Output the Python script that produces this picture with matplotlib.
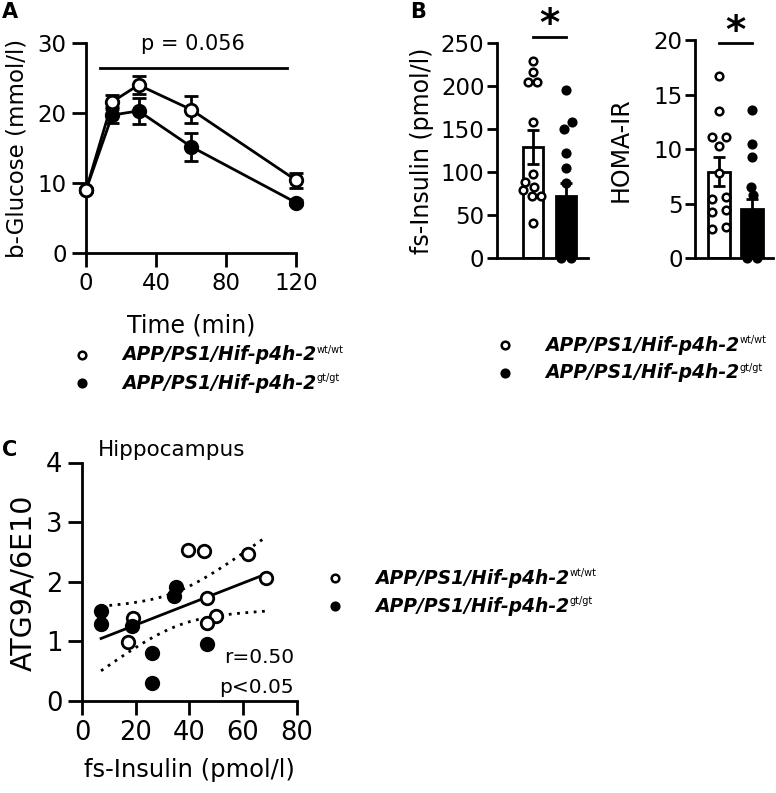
import numpy as np

import matplotlib as mpl
mpl.use('Agg')
import matplotlib.pyplot as plt

plt.rcParams['font.family'] = 'DejaVu Sans'
plt.rcParams['axes.linewidth'] = 2.0

# ---- data ----
# A: glucose tolerance test
time_min = [0, 15, 30, 60, 120]
glu_wt = [9.0, 21.6, 24.0, 20.5, 10.4]
glu_wt_sem = [0.3, 1.0, 1.3, 1.9, 1.1]
glu_gt = [9.0, 19.7, 20.3, 15.2, 7.2]
glu_gt_sem = [0.3, 1.1, 1.8, 2.0, 0.4]

# B: fasting insulin and HOMA-IR (bar = mean, error = SEM)
ins_mean = [129.0, 72.5]
ins_sem = [20.0, 15.0]
ins_wt = [229, 216, 204, 204, 158, 98, 89, 83, 79, 72, 72, 41]
ins_gt = [195, 158, 150, 122, 105, 87, 0, 0]
homa_mean = [7.95, 4.5]
homa_sem = [1.33, 0.95]
homa_wt = [16.7, 13.5, 11.1, 11.1, 10.3, 7.8, 5.65, 5.4, 4.4, 4.2, 2.85, 2.65]
homa_gt = [13.6, 10.5, 9.25, 6.55, 5.8, 0, 0]

# horizontal spread of the dots (bar-width units)
ins_wt_dx = [0, 0, -0.14, 0.11, 0, 0, -0.24, 0.02, -0.29, 0.23, -0.04, 0]
ins_gt_dx = [0, 0.17, -0.05, 0, 0, 0, -0.15, 0.15]
homa_wt_dx = [0, 0, -0.22, 0.21, 0, 0, 0.21, -0.22, 0.21, -0.22, 0.21, -0.22]
homa_gt_dx = [0, 0, 0, -0.03, 0.03, -0.15, 0.15]

# C: ATG9A/6E10 vs fs-insulin (hippocampus)
c_wt_x = [39.6, 45.6, 62.0, 68.4, 46.5, 49.9, 46.7, 18.9, 17.0]
c_wt_y = [2.53, 2.51, 2.46, 2.06, 1.72, 1.42, 1.30, 1.39, 0.99]
c_gt_x = [7.1, 7.1, 18.8, 34.3, 35.0, 26.0, 26.0, 46.5]
c_gt_y = [1.50, 1.28, 1.25, 1.75, 1.91, 0.80, 0.29, 0.96]

W, H = 776., 793.
fig = plt.figure(figsize=(W / 100., H / 100.), dpi=100)


def fx(px):
    return px / W


def fy(py):
    return 1. - py / H


def px_axes(left, top, right, bottom, labelsize=16.5, ticklen=10, pad=4):
    ax = fig.add_axes([fx(left), fy(bottom), (right - left) / W, (bottom - top) / H])
    for s in ['top', 'right']:
        ax.spines[s].set_visible(False)
    ax.tick_params(direction='out', length=ticklen, width=2, labelsize=labelsize, pad=pad)
    return ax


def legend(x, y, dy, size=13.5):
    for i, (face, sup) in enumerate([('white', 'wt/wt'), ('black', 'gt/gt')]):
        yy = y + i * dy
        axA.plot([fx(x)], [fy(yy)], 'o', ms=5.5, mfc=face, mec='black', mew=1.8,
                 transform=fig.transFigure, clip_on=False)
        t = fig.text(fx(x + 40), fy(yy), 'APP/PS1/Hif-p4h-2', ha='left', va='center',
                     style='italic', weight='bold', size=size)
        axA.annotate(sup, xy=(1.0, 0.5), xycoords=t, ha='left', va='bottom',
                     size=7, annotation_clip=False)


# ---------------- A ----------------
axA = px_axes(86, 43, 296, 253)
axA.errorbar(time_min, glu_gt, yerr=glu_gt_sem, color='black', lw=2, marker='o', ms=9,
             mfc='black', mec='black', mew=2, capsize=5, capthick=2, clip_on=False, zorder=3)
axA.errorbar(time_min, glu_wt, yerr=glu_wt_sem, color='black', lw=2, marker='o', ms=9,
             mfc='white', mec='black', mew=2, capsize=5, capthick=2, clip_on=False, zorder=4)
axA.set_xlim(0, 120)
axA.set_ylim(0, 30)
axA.set_xticks([0, 40, 80, 120])
axA.set_yticks([0, 10, 20, 30])
axA.plot([8, 115], [26.5, 26.5], color='black', lw=2, clip_on=False)
axA.text(61, 29.0, 'p = 0.056', ha='center', va='baseline', size=15)
axA.set_xlabel('Time (min)', size=17)
axA.xaxis.set_label_coords((191 - 86) / 210., -(325 - 253) / 210.)
axA.xaxis.label.set_va('center')
axA.set_ylabel('b-Glucose (mmol/l)', size=16.5)
axA.yaxis.set_label_coords(-(86 - 17) / 210., 0.5)
axA.yaxis.label.set_va('center')
legend(82, 355, 28)

# ---------------- B ----------------
for (left, top, right, xl, width, mean, sem, wt, gt, wdx, gdx, ymax, step, lab, labx, sig_y, star_x) in [
        (497, 42.7, 588, (-1.09, 1.667), 0.63, ins_mean, ins_sem, ins_wt, ins_gt,
         ins_wt_dx, ins_gt_dx, 250, 50, 'fs-Insulin (pmol/l)', 422, 257, 549),
        (695, 40.0, 773, (-0.727, 1.636), 0.65, homa_mean, homa_sem, homa_wt, homa_gt,
         homa_wt_dx, homa_gt_dx, 20, 5, 'HOMA-IR', 621, 19.7, 735)]:
    ax = px_axes(left, top, right, 258.3, ticklen=7.5, pad=1.5)
    ax.bar([0, 1], mean, width=width, color=['white', 'black'], edgecolor='black', lw=2, zorder=1)
    ax.errorbar([0, 1], mean, yerr=sem, fmt='none', ecolor='black', elinewidth=2,
                capsize=4, capthick=2, zorder=2)
    ax.plot(np.array(wdx), wt, 'o', ms=5.5, mfc='white', mec='black', mew=1.8,
            clip_on=False, zorder=3)
    ax.plot(1 + np.array(gdx), gt, 'o', ms=5.5, mfc='black', mec='black', mew=1.8,
            clip_on=False, zorder=3)
    ax.set_xlim(*xl)
    ax.set_ylim(0, ymax)
    ax.set_yticks(np.arange(0, ymax + step, step))
    ax.set_xticks([])
    ax.plot([0, 1], [sig_y, sig_y], color='black', lw=2, clip_on=False)
    ax.set_ylabel(lab, size=17)
    ax.yaxis.set_label_coords(-(left - labx) / (right - left), 0.5)
    ax.yaxis.label.set_va('center')
    fig.text(fx(star_x), fy(36 if ymax == 250 else 43), '*', ha='center', va='baseline',
             size=28, weight='bold')
legend(505, 345, 28)

# ---------------- C ----------------
axC = px_axes(82, 462.5, 296.7, 700.7, labelsize=18.5)
axC.plot(c_wt_x, c_wt_y, 'o', ms=9, mfc='white', mec='black', mew=2, clip_on=False, zorder=3)
axC.plot(c_gt_x, c_gt_y, 'o', ms=9, mfc='black', mec='black', mew=2, clip_on=False, zorder=3)

# linear regression with 95% confidence band
x_all = np.array(c_wt_x + c_gt_x)
y_all = np.array(c_wt_y + c_gt_y)
n = len(x_all)
slope, icpt = np.polyfit(x_all, y_all, 1)
xf = np.linspace(x_all.min(), x_all.max(), 100)
yf = icpt + slope * xf
s = np.sqrt(np.sum((y_all - (icpt + slope * x_all)) ** 2) / (n - 2))
sxx = np.sum((x_all - x_all.mean()) ** 2)
half = 2.131 * s * np.sqrt(1. / n + (xf - x_all.mean()) ** 2 / sxx)
axC.plot(xf, yf, color='black', lw=2, zorder=2)
axC.plot(xf, yf + half, color='black', lw=2, ls=(0, (1, 2)), zorder=2)
axC.plot(xf, yf - half, color='black', lw=2, ls=(0, (1, 2)), zorder=2)

axC.set_xlim(0, 80)
axC.set_ylim(0, 4)
axC.set_xticks([0, 20, 40, 60, 80])
axC.set_yticks([0, 1, 2, 3, 4])
axC.text(79, 0.72, 'r=0.50', ha='right', va='center', size=14.5)
axC.text(79, 0.23, 'p<0.05', ha='right', va='center', size=14.5)
axC.set_xlabel('fs-Insulin (pmol/l)', size=17.5)
axC.xaxis.set_label_coords(0.5, -(770 - 700.7) / 238.2)
axC.xaxis.label.set_va('center')
axC.set_ylabel('ATG9A/6E10', size=20.5)
axC.yaxis.set_label_coords(-(82 - 23) / 214.7, (700.7 - 583) / 238.2)
axC.yaxis.label.set_va('center')
fig.text(fx(98), fy(450), 'Hippocampus', ha='left', va='center', size=15.5)
legend(335, 578, 28)

# panel letters
for letter, x, y in [('A', 2, 12), ('B', 410, 12), ('C', 2, 450)]:
    fig.text(fx(x), fy(y), letter, ha='left', va='center', size=15, weight='bold')

fig.savefig('out.png', dpi=100)
